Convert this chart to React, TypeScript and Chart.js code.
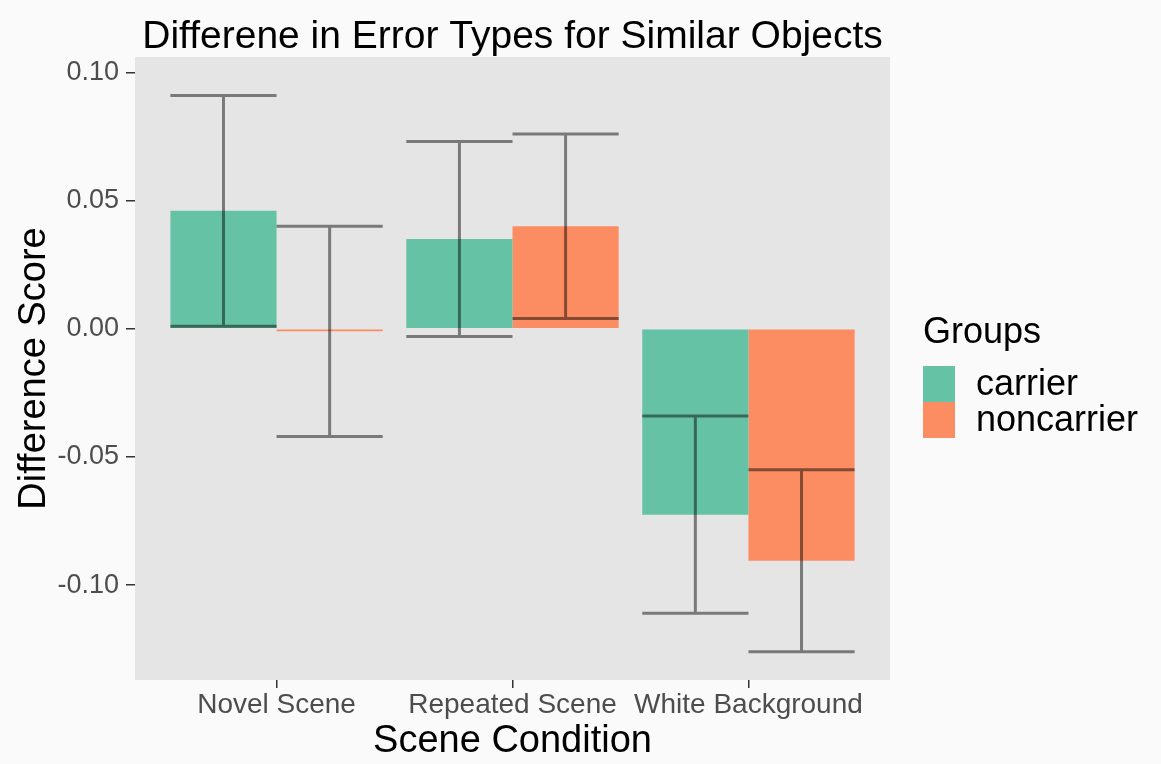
import React, { useEffect, useRef } from "react";
import { Chart, registerables } from "chart.js";

Chart.register(...registerables);

const categories = ["Novel Scene", "Repeated Scene", "White Background"];
const categoryPositions = [1, 2, 3];
const groups = ["carrier", "noncarrier"];
const groupColors = ["#66C2A5", "#FC8D62"];

const carrierMean = [0.046, 0.035, -0.0725];
const carrierLower = [0.001, -0.003, -0.111];
const carrierUpper = [0.091, 0.073, -0.034];

const noncarrierMean = [-0.001, 0.04, -0.0905];
const noncarrierLower = [-0.042, 0.004, -0.126];
const noncarrierUpper = [0.04, 0.076, -0.055];

const yTicks = [-0.1, -0.05, 0, 0.05, 0.1];

const chartTitle = "Differene in Error Types for Similar Objects";
const xTitle = "Scene Condition";
const yTitle = "Difference Score";
const legendTitle = "Groups";

const FONT = "'Liberation Sans', Arial, Helvetica, sans-serif";

const lowers = [carrierLower, noncarrierLower];
const uppers = [carrierUpper, noncarrierUpper];

const backgroundPlugin = {
  id: "panelBg",
  beforeDraw(chart: any) {
    const { ctx, chartArea, width, height } = chart;
    ctx.save();
    ctx.fillStyle = "#FAFAFA";
    ctx.fillRect(0, 0, width, height);
    ctx.fillStyle = "#E5E5E5";
    ctx.fillRect(chartArea.left, chartArea.top, chartArea.right - chartArea.left, chartArea.bottom - chartArea.top);
    ctx.restore();
  },
};

const errorBarPlugin = {
  id: "errorBars",
  afterDatasetsDraw(chart: any) {
    const { ctx } = chart;
    const yScale = chart.scales.y;
    ctx.save();
    ctx.strokeStyle = "rgba(0,0,0,0.47)";
    ctx.lineWidth = 3;
    chart.data.datasets.forEach((_ds: any, d: number) => {
      const meta = chart.getDatasetMeta(d);
      meta.data.forEach((el: any, i: number) => {
        const x = el.x;
        const w = el.width;
        const yLo = yScale.getPixelForValue(lowers[d][i]);
        const yHi = yScale.getPixelForValue(uppers[d][i]);
        ctx.beginPath();
        ctx.moveTo(x, yLo);
        ctx.lineTo(x, yHi);
        ctx.moveTo(x - w / 2, yLo);
        ctx.lineTo(x + w / 2, yLo);
        ctx.moveTo(x - w / 2, yHi);
        ctx.lineTo(x + w / 2, yHi);
        ctx.stroke();
      });
    });
    ctx.restore();
  },
};

const legendPlugin = {
  id: "ggLegend",
  afterDraw(chart: any) {
    const { ctx } = chart;
    const x0 = chart.chartArea.right + 33;
    ctx.save();
    ctx.fillStyle = "#000000";
    ctx.font = `36px ${FONT}`;
    ctx.textAlign = "left";
    ctx.textBaseline = "alphabetic";
    ctx.fillText(legendTitle, x0, 343);
    const keyTop = 366;
    const keyH = 36;
    groups.forEach((g, i) => {
      const y = keyTop + i * keyH;
      ctx.fillStyle = groupColors[i];
      ctx.fillRect(x0, y, 32, keyH);
      ctx.fillStyle = "#000000";
      ctx.font = `36px ${FONT}`;
      ctx.textBaseline = "middle";
      ctx.fillText(g, x0 + 53, y + keyH / 2 + 1);
    });
    ctx.restore();
  },
};

export default function App() {
  const canvasRef = useRef<HTMLCanvasElement | null>(null);

  useEffect(() => {
    if (!canvasRef.current) return;
    const chart = new Chart(canvasRef.current, {
      type: "bar",
      data: {
        datasets: [
          {
            label: groups[0],
            data: categoryPositions.map((x, i) => ({ x, y: carrierMean[i] })),
            backgroundColor: groupColors[0],
            borderWidth: 0,
          },
          {
            label: groups[1],
            data: categoryPositions.map((x, i) => ({ x, y: noncarrierMean[i] })),
            backgroundColor: groupColors[1],
            borderWidth: 0,
          },
        ],
      },
      options: {
        responsive: false,
        animation: false,
        categoryPercentage: 0.9,
        barPercentage: 1.0,
        layout: { padding: { left: 0, right: 271, top: 0, bottom: 0 } },
        plugins: {
          legend: { display: false },
          tooltip: { enabled: false },
          title: {
            display: true,
            text: chartTitle,
            fullSize: false,
            color: "#000000",
            font: { family: FONT, size: 39, weight: "normal", lineHeight: 1.0 },
            padding: { top: 18, bottom: 0 },
          },
        },
        scales: {
          x: {
            type: "linear",
            min: 0.4,
            max: 3.6,
            offset: false,
            afterBuildTicks: (scale: any) => {
              scale.ticks = categoryPositions.map((v) => ({ value: v }));
            },
            afterFit: (scale: any) => {
              scale.height = 84;
            },
            ticks: {
              autoSkip: false,
              maxRotation: 0,
              minRotation: 0,
              padding: 0,
              color: "#4D4D4D",
              font: { family: FONT, size: 28 },
              callback: (value: any) => {
                const idx = categoryPositions.indexOf(Number(value));
                return idx >= 0 ? categories[idx] : "";
              },
            },
            grid: {
              display: true,
              drawOnChartArea: false,
              drawTicks: true,
              tickLength: 8,
              color: "#333333",
              lineWidth: 1.5,
              offset: false,
            },
            border: { display: false },
            title: {
              display: true,
              text: xTitle,
              color: "#000000",
              font: { family: FONT, size: 38, lineHeight: 1.2 },
              padding: { top: 0, bottom: 0 },
            },
          },
          y: {
            type: "linear",
            min: -0.137,
            max: 0.106,
            afterBuildTicks: (scale: any) => {
              scale.ticks = yTicks.map((v) => ({ value: v }));
            },
            afterFit: (scale: any) => {
              scale.width = 135;
            },
            ticks: {
              padding: 7,
              color: "#4D4D4D",
              font: { family: FONT, size: 27 },
              callback: (value: any) => Number(value).toFixed(2),
            },
            grid: {
              display: true,
              drawOnChartArea: false,
              drawTicks: true,
              tickLength: 9,
              color: "#333333",
              lineWidth: 1.5,
            },
            border: { display: false },
            title: {
              display: true,
              text: yTitle,
              color: "#000000",
              font: { family: FONT, size: 38, lineHeight: 1.2 },
              padding: { top: 12, bottom: 0 },
            },
          },
        },
      },
      plugins: [backgroundPlugin, errorBarPlugin, legendPlugin],
    } as any);
    return () => chart.destroy();
  }, []);

  return (
    <div style={{ position: "absolute", left: 0, top: 0, width: 1161, height: 764 }}>
      <canvas ref={canvasRef} width={1161} height={764} style={{ display: "block" }} />
    </div>
  );
}
